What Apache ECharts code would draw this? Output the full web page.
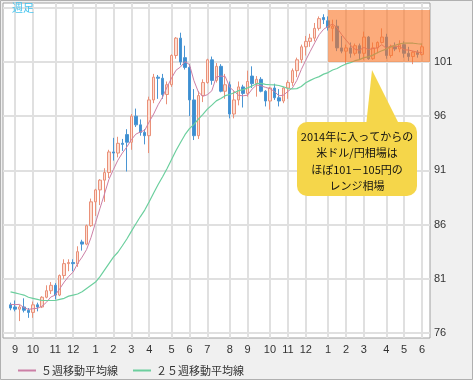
<!DOCTYPE html>
<html><head><meta charset="utf-8">
<script src="https://cdn.jsdelivr.net/npm/echarts@6/dist/echarts.min.js"></script>
<style>html,body{margin:0;padding:0;background:#f0f0f0;}#c{width:473px;height:380px;}</style>
</head><body><div id="c"></div>
<script>
// ---- data ----
const weeks = [
'2012-08-27','2012-09-03','2012-09-10','2012-09-17','2012-09-24','2012-10-01','2012-10-08','2012-10-15','2012-10-22','2012-10-29',
'2012-11-05','2012-11-12','2012-11-19','2012-11-26','2012-12-03','2012-12-10','2012-12-17','2012-12-24','2012-12-31',
'2013-01-07','2013-01-14','2013-01-21','2013-01-28','2013-02-04','2013-02-11','2013-02-18','2013-02-25','2013-03-04','2013-03-11',
'2013-03-18','2013-03-25','2013-04-01','2013-04-08','2013-04-15','2013-04-22','2013-04-29','2013-05-06','2013-05-13','2013-05-20',
'2013-05-27','2013-06-03','2013-06-10','2013-06-17','2013-06-24','2013-07-01','2013-07-08','2013-07-15','2013-07-22','2013-07-29',
'2013-08-05','2013-08-12','2013-08-19','2013-08-26','2013-09-02','2013-09-09','2013-09-16','2013-09-23','2013-09-30','2013-10-07',
'2013-10-14','2013-10-21','2013-10-28','2013-11-04','2013-11-11','2013-11-18','2013-11-25','2013-12-02','2013-12-09','2013-12-16',
'2013-12-23','2013-12-30',
'2014-01-06','2014-01-13','2014-01-20','2014-01-27','2014-02-03','2014-02-10','2014-02-17','2014-02-24','2014-03-03','2014-03-10',
'2014-03-17','2014-03-24','2014-03-31','2014-04-07','2014-04-14','2014-04-21','2014-04-28','2014-05-05','2014-05-12','2014-05-19',
'2014-05-26','2014-06-02'];
const openP = [78.6,78.4,78.2,78.4,78.1,77.9,78.6,78.4,79.3,79.9,80.4,79.5,81.3,82.4,82.5,82.4,84.4,84.2,85.9,
88.1,89.2,90.1,90.8,92.7,92.6,93.5,94.3,93.6,96.0,95.2,94.5,94.2,97.5,99.6,99.5,98.0,98.9,101.6,103.2,101.4,100.5,97.5,94.2,97.9,99.1,101.2,99.3,100.6,98.3,98.9,96.2,97.5,98.7,98.1,99.7,99.0,99.4,98.3,97.4,98.6,97.7,97.4,98.6,99.1,100.2,101.2,102.4,102.9,103.2,104.1,105.1,
104.8,104.1,104.3,102.3,102.0,102.3,101.8,102.5,101.8,103.3,101.3,102.3,102.8,103.3,101.6,102.4,102.2,102.6,101.8,101.5,101.9,101.7];
const closeP = [78.3,78.2,78.4,78.1,77.9,78.6,78.4,79.3,79.9,80.4,79.5,81.3,82.4,82.5,82.4,83.5,84.2,85.9,88.1,
89.2,90.1,90.8,92.7,92.6,93.5,93.4,93.6,96.0,95.2,94.5,94.2,97.5,99.6,99.5,98.0,98.9,101.6,103.2,101.0,100.5,97.5,94.2,97.9,99.1,101.2,99.3,100.6,98.3,98.9,96.2,97.5,98.7,98.1,99.2,99.0,99.4,98.3,97.4,98.6,97.7,97.4,98.6,99.1,100.2,101.2,102.4,102.9,103.2,104.1,105.0,104.9,
104.2,104.3,102.3,102.0,102.3,101.8,102.5,101.8,103.3,101.3,102.3,102.8,103.3,101.6,102.4,102.2,102.6,101.8,101.5,101.9,101.7,102.4];
const lowP = [78.1,78.0,77.1,77.9,77.4,77.4,78.0,78.3,79.2,79.6,79.1,79.4,81.0,81.7,81.7,82.1,83.6,84.1,85.8,
86.8,87.8,88.1,90.3,91.9,92.2,92.8,90.9,92.9,95.0,94.2,93.4,92.6,97.2,97.6,97.6,97.1,98.7,101.3,100.7,100.3,96.0,93.8,93.9,97.3,99.0,98.9,99.1,98.2,97.6,95.8,95.8,97.0,96.8,97.8,98.6,97.8,98.2,96.9,96.6,97.5,96.9,97.2,97.6,98.8,99.6,100.9,101.6,102.4,102.9,103.9,104.5,
103.9,102.9,102.0,101.8,100.8,101.4,101.6,101.2,101.2,101.2,101.2,101.8,102.7,101.3,101.4,102.0,101.9,101.4,101.1,100.8,101.4,101.6];
const highP = [78.8,79.0,78.6,79.2,78.3,78.9,78.8,79.4,80.4,80.7,80.6,81.4,82.8,82.8,82.8,84.0,84.6,86.0,88.4,
89.3,90.2,91.2,92.9,94.0,94.1,93.9,94.8,96.2,96.7,95.7,94.8,97.8,99.9,99.8,99.9,99.2,101.7,103.3,103.7,102.5,100.8,98.5,98.3,99.4,101.3,101.5,100.9,100.8,99.9,99.2,98.3,99.2,98.9,100.2,100.6,99.7,99.6,98.4,98.7,99.0,98.5,98.7,99.3,100.4,101.4,102.6,103.4,103.6,104.6,105.2,105.4,
105.2,104.9,104.9,103.4,102.6,102.8,102.7,102.7,103.8,103.4,102.8,102.9,104.1,103.6,102.6,102.8,103.0,102.9,102.4,102.0,102.1,102.7];
const ma5 = [78.64,78.62,78.64,78.34,78.18,78.24,78.28,78.46,78.82,79.32,79.5,80.08,80.7,81.22,81.62,82.42,83.0,83.7,84.82,
86.18,87.5,88.82,90.18,91.08,91.94,92.6,93.16,93.82,94.34,94.54,94.7,95.48,96.2,97.06,97.76,98.7,99.52,100.24,100.54,101.04,100.76,99.28,98.22,97.84,97.98,98.34,99.62,99.7,99.66,98.66,98.3,97.92,97.88,97.94,98.5,98.88,98.8,98.66,98.54,98.28,97.88,97.94,98.28,98.6,99.3,100.3,101.16,101.98,102.76,103.52,104.02,
104.28,104.5,104.14,103.54,103.02,102.54,102.18,102.08,102.34,102.14,102.24,102.3,102.6,102.26,102.48,102.46,102.42,102.12,102.1,102.0,101.9,101.86];
const ma25 = [79.8,79.7,79.6,79.5,79.3,79.2,79.1,79.0,79.0,79.0,79.0,79.1,79.2,79.4,79.5,79.6,79.8,80.1,80.4,
80.7,81.2,81.8,82.4,83.0,83.45,84.05,84.67,85.37,86.06,86.72,87.34,88.11,88.92,89.70,90.41,91.18,92.00,92.83,93.57,94.29,94.85,95.25,95.73,96.17,96.65,97.02,97.41,97.64,97.89,98.00,98.16,98.36,98.45,98.61,98.79,99.00,99.03,98.94,98.90,98.89,98.83,98.71,98.55,98.52,98.54,98.74,99.09,99.30,99.50,99.65,99.88,
100.02,100.26,100.40,100.63,100.82,100.94,101.12,101.22,101.40,101.47,101.63,101.85,102.04,102.19,102.39,102.54,102.68,102.74,102.75,102.73,102.68,102.65];
const yTicks = [76,81,86,91,96,101,106];
const yTickLabels = [76,81,86,91,96,101];
const seriesNames = ['５週移動平均線','２５週移動平均線'];
const rangeStart = '2014-01-06';
const rangeLow = 101, rangeHigh = 105.8;
const noteLines = ['2014年に入ってからの','米ドル/円相場は','ほぼ101－105円の','レンジ相場'];
const chartTitle = '週足';

// ---- layout ----
const W = 473, H = 380;
const PL = 3, PR = 430, PT = 3, PB = 338;      // plot frame
const DL = 8.3, DR = 424.3;                     // candle band extent
const YMIN = 75.54, YMAX = 106.44;
const n = weeks.length;
const bw = (DR - DL) / n;
const X1MIN = (PL - DL) / bw - 0.5, X1MAX = (PR - DL) / bw - 0.5;
const monthStart = weeks.map((d, i) => i > 0 && d.slice(5, 7) !== weeks[i - 1].slice(5, 7));
const FONT = '"Noto Sans CJK JP", sans-serif';

const chart = echarts.init(document.getElementById('c'), null, {renderer: 'canvas'});
chart.setOption({
  animation: false,
  backgroundColor: '#f0f0f0',
  title: {text: chartTitle, left: 12, top: 2, padding: 0,
    textStyle: {fontSize: 11, color: '#46c4ee', fontWeight: 'normal', fontFamily: FONT}},
  legend: {
    left: 13, top: 360, itemWidth: 18, itemHeight: 2, itemGap: 15, icon: 'rect',
    data: seriesNames,
    textStyle: {fontSize: 11, color: '#333', fontFamily: FONT}
  },
  grid: [
    {left: DL, right: W - DR, top: PT, bottom: H - PB, outerBoundsMode: 'none'},
    {left: PL, right: W - PR, top: PT, bottom: H - PB, show: true, backgroundColor: '#ffffff',
     borderColor: '#a0a0a0', borderWidth: 1, outerBoundsMode: 'none', z: 0}
  ],
  xAxis: [
    {type: 'category', gridIndex: 0, data: weeks, boundaryGap: true,
     axisLine: {show: false}, axisTick: {show: false}, splitLine: {show: false},
     axisLabel: {interval: (i) => monthStart[i], formatter: (v) => String(parseInt(v.slice(5, 7), 10)),
       margin: 6, fontSize: 11, color: '#333', fontFamily: '"Liberation Sans", Arial, sans-serif'}},
    {type: 'value', gridIndex: 1, min: X1MIN, max: X1MAX, show: false, splitLine: {show: false}}
  ],
  yAxis: [
    {type: 'value', gridIndex: 0, min: YMIN, max: YMAX, show: false, splitLine: {show: false}},
    {type: 'value', gridIndex: 1, min: YMIN, max: YMAX, position: 'right',
     axisLine: {show: false},
     axisTick: {show: false, customValues: yTicks},
     axisLabel: {customValues: yTickLabels, margin: 4, fontSize: 11, color: '#333',
       fontFamily: '"Liberation Sans", Arial, sans-serif'},
     splitLine: {show: true, lineStyle: {color: '#e0e0e0', width: 2}}}
  ],
  series: [
    {type: 'candlestick', name: 'USDJPY', xAxisIndex: 0, yAxisIndex: 0, barWidth: 3,
     data: weeks.map((d, i) => [openP[i], closeP[i], lowP[i], highP[i]]),
     itemStyle: {color: '#fddfd3', color0: '#3b8fd2', borderColor: '#ea9179', borderColor0: '#4a95d3', borderWidth: 1},
     markLine: {silent: true, z: 1, symbol: ['none', 'none'], label: {show: false},
       lineStyle: {color: '#e0e0e0', width: 2, type: 'solid'},
       data: weeks.filter((d, i) => monthStart[i]).map(d => ({xAxis: d}))}
    },
    {type: 'line', name: seriesNames[0], xAxisIndex: 0, yAxisIndex: 0, data: ma5, symbol: 'none',
     color: '#cc7fa6', lineStyle: {width: 1, color: '#cc7fa6'}},
    {type: 'line', name: seriesNames[1], xAxisIndex: 0, yAxisIndex: 0, data: ma25, symbol: 'none',
     color: '#6ccf9e', lineStyle: {width: 1.2, color: '#6ccf9e'}},
    {type: 'line', name: 'range', xAxisIndex: 1, yAxisIndex: 1, data: [], silent: true,
     markArea: {silent: true, z: 5, itemStyle: {color: 'rgba(250,115,35,0.6)'},
       data: [[{xAxis: weeks.indexOf(rangeStart), yAxis: rangeLow}, {xAxis: X1MAX, yAxis: rangeHigh}]]}}
  ],
  graphic: [
    {type: 'polygon', z: 100, shape: {points: [[372, 70], [366, 126], [400, 126]]}, style: {fill: '#f5d64a'}},
    {type: 'rect', z: 100, shape: {x: 297, y: 122, width: 120, height: 74, r: 10}, style: {fill: '#f5d64a'}},
    {type: 'text', z: 101, style: {text: noteLines.join('\n'), x: 357, y: 161.5, align: 'center', verticalAlign: 'middle',
      font: '11px "Noto Sans CJK JP"', lineHeight: 16.5, fill: '#111'}},
    {type: 'rect', z: 100, silent: true, shape: {x: 0.5, y: 0.5, width: W - 1, height: H - 1},
      style: {fill: 'none', stroke: '#b0b0b0', lineWidth: 1}}
  ]
});
</script>
</body></html>
